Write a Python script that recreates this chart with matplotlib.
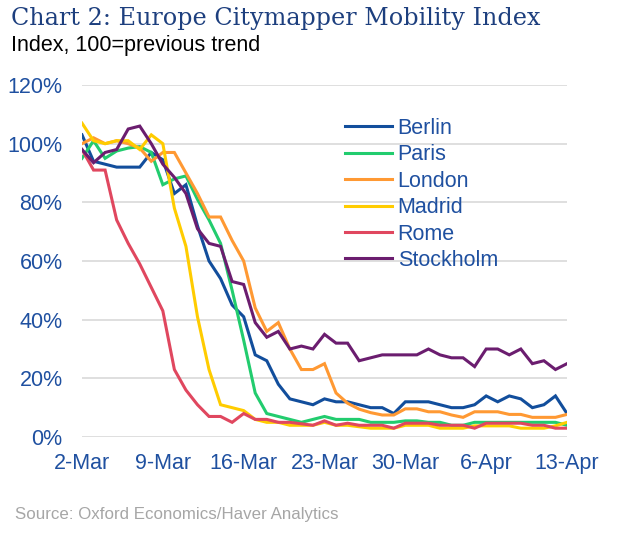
import numpy as np
import pandas as pd
import matplotlib
matplotlib.use("Agg")
import matplotlib.pyplot as plt
import matplotlib.dates as mdates
from matplotlib.ticker import FuncFormatter

plt.rcParams["font.family"] = ["Liberation Sans", "DejaVu Sans"]

# daily index values, 2-Mar to 13-Apr (100 = previous trend)
dates = pd.date_range("2020-03-02", "2020-04-13", freq="D")

berlin = [103, 94, 93, 92, 92, 92, 97, 94.5, 83, 86, 72, 60, 54, 45, 41, 28, 26, 18, 13, 12,
          11, 13, 12, 12, 11, 10, 10, 8, 12, 12, 12, 11, 10, 10, 11, 14, 12, 14, 13, 10,
          11, 14, 8]
paris = [95, 101, 95, 97.5, 98.5, 99, 97, 86, 88, 89, 81, 74, 66, 50, 33, 15, 8, 7, 6, 5,
         6, 7, 6, 6, 6, 5, 5, 5, 5.5, 5.5, 5, 5, 4, 4, 5, 5, 5, 5, 5, 5,
         5, 5, 4]
london = [100, 102, 100, 101, 100, 98.5, 94, 97, 97, 90, 83, 75, 75, 67, 60, 44, 36, 39, 30, 23,
          23, 25, 15, 11.5, 9.5, 8.3, 7.5, 7.5, 9.6, 9.6, 8.6, 8.6, 7.5, 6.7, 8.6, 8.6, 8.6, 7.7, 7.7, 6.7,
          6.7, 6.7, 7.7]
madrid = [107, 101, 100, 101, 101, 98, 103, 100, 78, 65, 41, 23, 11, 10, 9, 6, 5, 5, 4, 4,
          4, 5, 4, 4, 3.5, 3, 3, 3, 4, 4, 4, 3, 3, 3, 3.8, 3.8, 3.8, 3.8, 3, 3,
          3, 3.8, 5]
rome = [98, 91, 91, 74, 66, 59, 51, 43, 23, 16, 11, 7, 7, 5, 8, 6, 6, 5, 5, 4.5,
        4, 5.5, 4, 4.7, 4, 4, 4, 3, 4.7, 4.7, 4.7, 4, 4, 4, 3, 4.7, 4.7, 4.7, 4.7, 4,
        4, 3, 3]
stockholm = [98, 93.5, 97, 98, 105, 106, 100, 93, 88.5, 83, 71, 66, 65, 53, 52, 39, 34, 36, 30, 31,
             30, 35, 32, 32, 26, 27, 28, 28, 28, 28, 30, 28, 27, 27, 24, 30, 30, 28, 30, 25,
             26, 23, 25]

names = ["Berlin", "Paris", "London", "Madrid", "Rome", "Stockholm"]
series = [berlin, paris, london, madrid, rome, stockholm]
colors = ["#124E9C", "#22CC6E", "#FF9933", "#FFCC00", "#E0475F", "#6B1D6F"]

txt_blue = "#1F50A0"

fig = plt.figure(figsize=(6.23, 5.4), dpi=100)
ax = fig.add_axes([82/623, 1 - 437/540, 485/623, 352/540])

for name, vals, c in zip(names, series, colors):
    ax.plot(dates, vals, color=c, lw=2.2, label=name, solid_joinstyle="miter")

ax.set_xlim(dates[0], dates[-1])
ax.set_ylim(0, 120)
ax.set_yticks(np.arange(0, 121, 20))
ax.yaxis.set_major_formatter(FuncFormatter(lambda v, p: "%d%%" % v))
ax.set_xticks(dates[::7])
ax.xaxis.set_major_formatter(mdates.DateFormatter("%-d-%b"))

ax.grid(axis="y", color="#D9D9D9", lw=1.2)
ax.set_axisbelow(True)
for s in ax.spines.values():
    s.set_visible(False)
ax.tick_params(length=0, labelsize=15.5, labelcolor=txt_blue)
ax.tick_params(axis="y", pad=14)
ax.tick_params(axis="x", pad=11.5)

leg = ax.legend(loc="upper left", bbox_to_anchor=(345/623, 1 - 118/540),
                bbox_transform=fig.transFigure, frameon=False, fontsize=15.5,
                handlelength=2.2, handletextpad=0.25, labelspacing=0.25,
                borderpad=0, borderaxespad=0)
for t in leg.get_texts():
    t.set_color(txt_blue)

fig.text(11/623, 1 - 19/540, "Chart 2: Europe Citymapper Mobility Index",
         fontsize=17.2, family="DejaVu Serif", color="#1D3F7E", va="center")
fig.text(11/623, 1 - 46/540, "Index, 100=previous trend",
         fontsize=15.5, color="black", va="center")
fig.text(15/623, 1 - 514/540, "Source: Oxford Economics/Haver Analytics",
         fontsize=12.2, color="#A6A6A6", va="center")

fig.savefig("out.png", dpi=100)
